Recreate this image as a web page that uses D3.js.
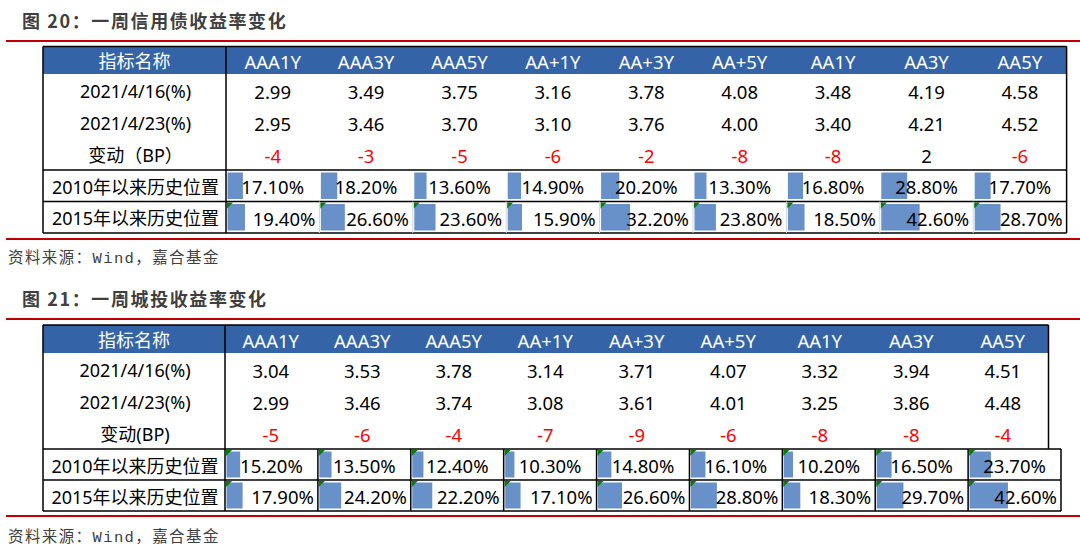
<!DOCTYPE html>
<html><head><meta charset="utf-8">
<script src="https://cdn.jsdelivr.net/npm/d3@7"></script>
<style>
html,body{margin:0;padding:0;background:#fff;}
svg{display:block;}
</style></head>
<body>
<script>
// ---------- DATA ----------
const categories = ["AAA1Y","AAA3Y","AAA5Y","AA+1Y","AA+3Y","AA+5Y","AA1Y","AA3Y","AA5Y"];
const headerLabel = "指标名称";
const rowLabels1 = ["2021/4/16(%)","2021/4/23(%)","变动（BP）","2010年以来历史位置","2015年以来历史位置"];
const rowLabels2 = ["2021/4/16(%)","2021/4/23(%)","变动(BP)","2010年以来历史位置","2015年以来历史位置"];

const credit0416 = [2.99,3.49,3.75,3.16,3.78,4.08,3.48,4.19,4.58];
const credit0423 = [2.95,3.46,3.70,3.10,3.76,4.00,3.40,4.21,4.52];
const creditBP   = [-4,-3,-5,-6,-2,-8,-8,2,-6];
const credit2010 = [17.10,18.20,13.60,14.90,20.20,13.30,16.80,28.80,17.70];
const credit2015 = [19.40,26.60,23.60,15.90,32.20,23.80,18.50,42.60,28.70];

const ct0416 = [3.04,3.53,3.78,3.14,3.71,4.07,3.32,3.94,4.51];
const ct0423 = [2.99,3.46,3.74,3.08,3.61,4.01,3.25,3.86,4.48];
const ctBP   = [-5,-6,-4,-7,-9,-6,-8,-8,-4];
const ct2010 = [15.20,13.50,12.40,10.30,14.80,16.10,10.20,16.50,23.70];
const ct2015 = [17.90,24.20,22.20,17.10,26.60,28.80,18.30,29.70,42.60];

const title1 = "图 20：一周信用债收益率变化";
const title2 = "图 21：一周城投收益率变化";
const sourceText = "资料来源：Wind，嘉合基金";

// ---------- DRAW ----------
const W = 1080, H = 550;
const svg = d3.select("body").append("svg").attr("width", W).attr("height", H);
const FONT = "'Noto Sans','Noto Sans CJK SC',sans-serif";
const BLUE = "#3463a8", BAR = "#6891c9", RED = "#ff0000", LINE_RED = "#c00000";
const barScale = d3.scaleLinear().domain([0, 100]).range([0, 90]);

function section(cfg, title, labels, v1, v2, bp, p2010, p2015) {
  const g = svg.append("g");
  g.append("text").attr("x", 22).attr("y", cfg.titleY)
    .attr("font-family", "'Noto Sans CJK SC',sans-serif").attr("font-weight", "bold")
    .attr("font-size", 18).attr("fill", "#3f3f3f").attr("dominant-baseline", "central")
    .attr("letter-spacing", 1.6).text(title);
  [cfg.rule1, cfg.rule2].forEach(y => g.append("line").attr("x1", 6).attr("x2", W)
    .attr("y1", y).attr("y2", y).attr("stroke", LINE_RED).attr("stroke-width", 2));
  g.append("text").attr("x", 8).attr("y", cfg.sourceY)
    .attr("font-family", "'Liberation Mono','Noto Sans CJK SC',monospace")
    .attr("font-size", 15.5).attr("letter-spacing", 1.4).attr("fill", "#404040")
    .attr("dominant-baseline", "central").text(sourceText);

  const xU = d3.scaleBand().domain(categories).range([cfg.col1, cfg.rightU]);
  const xL = d3.scaleBand().domain(categories).range([cfg.col1, cfg.rightL]);
  const top = cfg.top, hb = top + cfg.headerH;
  const rowY = i => hb + cfg.rowH * i;
  const low0 = rowY(3), low1 = low0 + cfg.lowH, low2 = low1 + cfg.lowH;

  g.append("rect").attr("x", cfg.left).attr("y", top).attr("width", cfg.rightU - cfg.left)
    .attr("height", cfg.headerH).attr("fill", BLUE);
  g.append("text").attr("x", (cfg.left + cfg.col1) / 2).attr("y", top + cfg.headerH / 2 + 1)
    .attr("text-anchor", "middle").attr("dominant-baseline", "central")
    .attr("font-family", FONT).attr("font-size", 18).attr("fill", "#fff").text(headerLabel);
  g.selectAll(null).data(categories).join("text")
    .attr("x", d => xU(d) + xU.bandwidth() / 2).attr("y", top + cfg.headerH / 2 + 1)
    .attr("text-anchor", "middle").attr("dominant-baseline", "central")
    .attr("font-family", FONT).attr("font-size", 18.5).attr("fill", "#fff").text(d => d);

  const labelY = [rowY(0) + cfg.rowH / 2, rowY(1) + cfg.rowH / 2, rowY(2) + cfg.rowH / 2,
                  (low0 + low1) / 2, (low1 + low2) / 2];
  g.selectAll(null).data(labels).join("text")
    .attr("x", (cfg.left + cfg.col1) / 2 + 1).attr("y", (d, i) => labelY[i] + 1)
    .attr("text-anchor", "middle").attr("dominant-baseline", "central")
    .attr("font-family", FONT).attr("font-size", 18).attr("fill", "#000").text(d => d);

  const rows = [v1.map(v => v.toFixed(2)), v2.map(v => v.toFixed(2))];
  rows.forEach((r, ri) => {
    g.selectAll(null).data(r).join("text")
      .attr("x", (d, i) => xU(categories[i]) + xU.bandwidth() / 2)
      .attr("y", labelY[ri] + 1)
      .attr("text-anchor", "middle").attr("dominant-baseline", "central")
      .attr("font-family", FONT).attr("font-size", 18.5).attr("fill", "#000").text(d => d);
  });
  g.selectAll(null).data(bp).join("text")
    .attr("x", (d, i) => xU(categories[i]) + xU.bandwidth() / 2)
    .attr("y", labelY[2] + 1)
    .attr("text-anchor", "middle").attr("dominant-baseline", "central")
    .attr("font-family", FONT).attr("font-size", 18.5)
    .attr("fill", d => d < 0 ? RED : "#000").text(d => d);

  const pct = [p2010, p2015];
  const tops = [low0, low1];
  pct.forEach((arr, ri) => {
    const y0 = tops[ri];
    g.selectAll(null).data(arr).join("rect")
      .attr("x", (d, i) => xL(categories[i]) + 1.5).attr("y", y0 + 2.5)
      .attr("width", d => barScale(d)).attr("height", cfg.lowH - 5)
      .attr("fill", BAR);
    if (cfg.triangles[ri]) {
      g.selectAll(null).data(arr).join("path")
        .attr("d", (d, i) => { const x = xL(categories[i]) + 1; const y = y0 + 1;
          return `M${x},${y}L${x + 6},${y}L${x},${y + 6}Z`; })
        .attr("fill", "#0a7a0a");
    }
    const right = cfg.align[ri] === "end";
    g.selectAll(null).data(arr).join("text")
      .attr("x", (d, i) => right ? xL(categories[i]) + xL.bandwidth() - 4 : xL(categories[i]) + xL.bandwidth() / 2)
      .attr("y", y0 + cfg.lowH / 2 + 1)
      .attr("text-anchor", right ? "end" : "middle").attr("dominant-baseline", "central")
      .attr("font-family", FONT).attr("font-size", 18.5).attr("fill", "#000")
      .text(d => d.toFixed(2) + "%");
  });

  const ln = (x1, y1, x2, y2, c = "#000", w = 1.5) => g.append("line")
    .attr("x1", x1).attr("y1", y1).attr("x2", x2).attr("y2", y2)
    .attr("stroke", c).attr("stroke-width", w);
  ln(cfg.left, top, cfg.rightU, top);
  ln(cfg.left, top, cfg.left, low2);
  ln(cfg.col1, top, cfg.col1, low2);
  ln(cfg.rightU, top, cfg.rightU, low0);
  ln(cfg.rightL, low0, cfg.rightL, low2);
  [low0, low1, low2].forEach(y => ln(cfg.left, y, Math.max(cfg.rightU, cfg.rightL), y));
  categories.slice(1).forEach(c => {
    if (cfg.innerBlack) ln(xL(c), low0, xL(c), low2);
    else ln(xL(c), low1, xL(c), low2, "#d4d4d4", 1);
  });
}

section({titleY: 20, rule1: 41, rule2: 239, sourceY: 259,
         left: 43, col1: 226, rightU: 1066.6, rightL: 1066.6,
         top: 46.5, headerH: 27.5, rowH: 32, lowH: 31.5,
         triangles: [false, true], align: ["middle", "end"], innerBlack: false},
        title1, rowLabels1, credit0416, credit0423, creditBP, credit2010, credit2015);

section({titleY: 298, rule1: 319, rule2: 516, sourceY: 538,
         left: 43, col1: 225, rightU: 1048.5, rightL: 1061,
         top: 325, headerH: 28, rowH: 32, lowH: 31,
         triangles: [true, true], align: ["middle", "end"], innerBlack: true},
        title2, rowLabels2, ct0416, ct0423, ctBP, ct2010, ct2015);
</script>
</body></html>
